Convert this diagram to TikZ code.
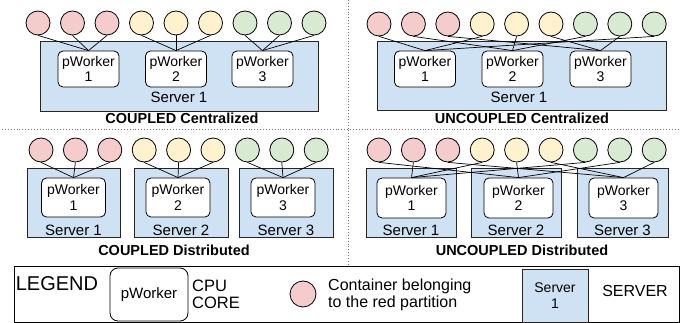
\documentclass[tikz,border=0pt]{standalone}
\usepackage{fontspec}
\setmainfont{Liberation Sans}
\definecolor{cred}{HTML}{F4CCCC}
\definecolor{cyel}{HTML}{FFF2CC}
\definecolor{cgrn}{HTML}{D9EAD3}
\definecolor{cblu}{HTML}{CFE2F3}
\begin{document}
\begin{tikzpicture}[x=1pt,y=-1pt,
  cont/.style={circle, draw=black, line width=0.8pt, minimum size=24pt, inner sep=0pt},
  worker/.style={draw=black, fill=white, rounded corners=5pt, line width=0.8pt, inner sep=0pt, align=center, font=\fontsize{14}{15.5}\selectfont},
  server/.style={draw=black!85, fill=cblu, line width=0.8pt, inner sep=0pt},
  lbl/.style={font=\fontsize{15}{16}\selectfont, inner sep=0pt},
  ttl/.style={font=\fontsize{14.5}{16}\selectfont\bfseries, inner sep=0pt},
  link/.style={draw=black, line width=0.7pt},
  sep/.style={draw=black!55, dotted, line width=0.9pt},
  legtxt/.style={font=\fontsize{16}{15.5}\selectfont, inner sep=0pt, align=left, anchor=west}]
\useasboundingbox (0,0) rectangle (699,323);

% separators
\draw[sep] (348,0) -- (348,266);
\draw[sep] (2,129) -- (678,129);

% ===== Top-left: COUPLED Centralized =====
\node[server, minimum width=278pt, minimum height=70pt] (tls) at (179,76) {};
\node[lbl] (tlsl) at (179,97) {Server 1};
\node[worker, minimum width=61pt, minimum height=36pt] (tlw1) at (88.5,69) {pWorker\\1};
\node[worker, minimum width=61pt, minimum height=36pt] (tlw2) at (176,69) {pWorker\\2};
\node[worker, minimum width=61pt, minimum height=36pt] (tlw3) at (262.5,69) {pWorker\\3};
\foreach \i/\c in {1/cred,2/cred,3/cred,4/cyel,5/cyel,6/cyel,7/cgrn,8/cgrn,9/cgrn}
  \node[cont, fill=\c] (tl\i) at ({38+34.5*(\i-1)},23) {};
\foreach \i/\w in {1/1,2/1,3/1,4/2,5/2,6/2,7/3,8/3,9/3}
  \draw[link] (tl\i.south) -- (tlw\w.north);
\node[ttl] (tlt) at (182,118) {COUPLED Centralized};

% ===== Top-right: UNCOUPLED Centralized =====
\node[server, minimum width=289pt, minimum height=69pt] (trs) at (521.5,75.5) {};
\node[lbl] (trsl) at (519,97) {Server 1};
\node[worker, minimum width=61pt, minimum height=36pt] (trw1) at (425,69) {pWorker\\1};
\node[worker, minimum width=61pt, minimum height=36pt] (trw2) at (512.5,69) {pWorker\\2};
\node[worker, minimum width=61pt, minimum height=36pt] (trw3) at (600.5,69) {pWorker\\3};
\foreach \i/\c in {1/cred,2/cred,3/cred,4/cyel,5/cyel,6/cyel,7/cgrn,8/cgrn,9/cgrn}
  \node[cont, fill=\c] (tr\i) at ({379+34.4*(\i-1)},24) {};
\foreach \i/\w in {1/1,2/2,3/3,4/1,5/2,6/3,7/2,8/3,9/1}
  \draw[link] (tr\i.south) -- (trw\w.north);
\node[ttl] (trt) at (522,118) {UNCOUPLED Centralized};

% ===== Bottom-left: COUPLED Distributed =====
\node[server, minimum width=93pt, minimum height=69pt] (bls1) at (73.5,202.5) {};
\node[server, minimum width=94pt, minimum height=69pt] (bls2) at (181,202.5) {};
\node[server, minimum width=94pt, minimum height=69pt] (bls3) at (286,202.5) {};
\node[lbl] (bls1l) at (73.5,230) {Server 1};
\node[lbl] (bls2l) at (181,230) {Server 2};
\node[lbl] (bls3l) at (286,230) {Server 3};
\node[worker, minimum width=64pt, minimum height=39pt] (blw1) at (73.5,197.5) {pWorker\\1};
\node[worker, minimum width=64pt, minimum height=39pt] (blw2) at (178,197.5) {pWorker\\2};
\node[worker, minimum width=64pt, minimum height=39pt] (blw3) at (283,197.5) {pWorker\\3};
\foreach \i/\c in {1/cred,2/cred,3/cred,4/cyel,5/cyel,6/cyel,7/cgrn,8/cgrn,9/cgrn}
  \node[cont, fill=\c] (bl\i) at ({41+34.4*(\i-1)},150) {};
\foreach \i/\w in {1/1,2/1,3/1,4/2,5/2,6/2,7/3,8/3,9/3}
  \draw[link] (bl\i.south) -- (blw\w.north);
\node[ttl] (blt) at (174,250) {COUPLED Distributed};

% ===== Bottom-right: UNCOUPLED Distributed =====
\node[server, minimum width=90pt, minimum height=69pt] (brs1) at (411,202.5) {};
\node[server, minimum width=90pt, minimum height=69pt] (brs2) at (516,202.5) {};
\node[server, minimum width=91pt, minimum height=69pt] (brs3) at (622.5,202.5) {};
\node[lbl] (brs1l) at (411,230) {Server 1};
\node[lbl] (brs2l) at (516,230) {Server 2};
\node[lbl] (brs3l) at (622.5,230) {Server 3};
\node[worker, minimum width=69pt, minimum height=40pt] (brw1) at (411.5,198) {pWorker\\1};
\node[worker, minimum width=69pt, minimum height=40pt] (brw2) at (518.5,198) {pWorker\\2};
\node[worker, minimum width=69pt, minimum height=40pt] (brw3) at (623.5,198) {pWorker\\3};
\foreach \i/\c in {1/cred,2/cred,3/cred,4/cyel,5/cyel,6/cyel,7/cgrn,8/cgrn,9/cgrn}
  \node[cont, fill=\c] (br\i) at ({379+34.4*(\i-1)},150) {};
\foreach \i/\w in {1/2,2/1,3/3,4/1,5/2,6/3,7/1,8/2,9/3}
  \draw[link] (br\i.south) -- (brw\w.north);
\node[ttl] (brt) at (522,250) {UNCOUPLED Distributed};

% ===== Legend =====
\node[draw=black, line width=0.8pt, fill=white, minimum width=665pt, minimum height=56pt, inner sep=0pt] (leg) at (346.5,294) {};
\node[font=\fontsize{20}{20}\selectfont, inner sep=0pt] (legt) at (57,284) {LEGEND};
\node[draw=black, fill=white, rounded corners=8pt, line width=0.8pt, minimum width=78pt, minimum height=53pt, inner sep=0pt, font=\fontsize{15}{15}\selectfont] (legw) at (149,294.5) {pWorker};
\node[legtxt, font=\fontsize{16.5}{17.5}\selectfont] (legcpu) at (192,294.5) {CPU\\CORE};
\node[cont, fill=cred, minimum size=26pt] (legc) at (303,294) {};
\node[legtxt, font=\fontsize{16}{17}\selectfont] (legcont) at (328,294.5) {Container belonging\\to the red partition};
\node[server, minimum width=66pt, minimum height=53pt, align=center, font=\fontsize{14}{16}\selectfont] (legs) at (555,295.5) {Server\\1};
\node[legtxt, anchor=center] (legst) at (635,291) {SERVER};
\end{tikzpicture}
\end{document}
